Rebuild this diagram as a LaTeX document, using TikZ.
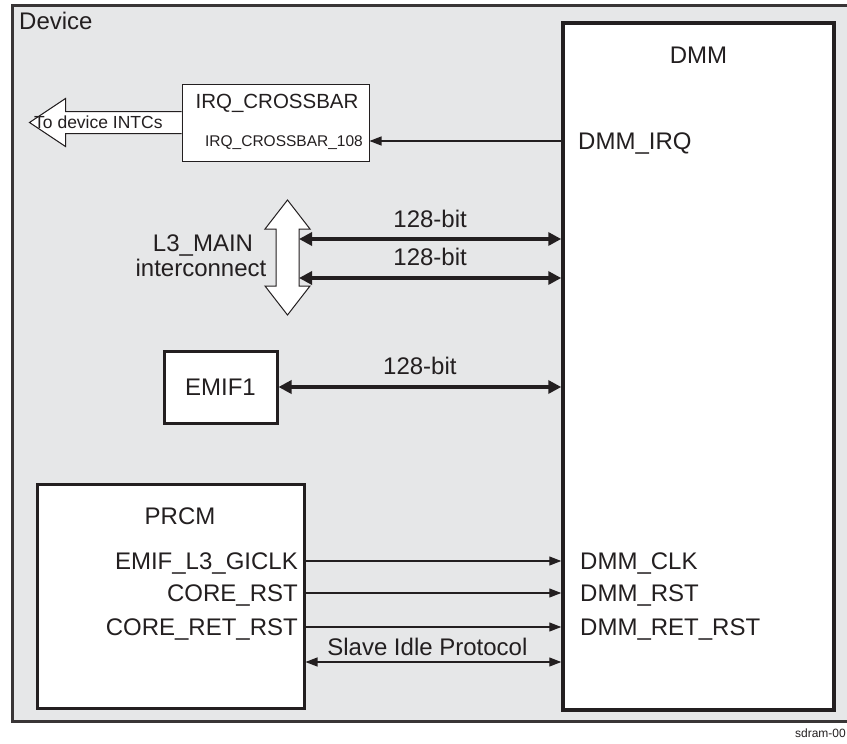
\documentclass[tikz,border=0pt]{standalone}
\usepackage{fontspec}
\setmainfont{Liberation Sans}
\usetikzlibrary{arrows.meta,calc}
\definecolor{devfill}{HTML}{E6E7E8}
\definecolor{ink}{HTML}{231F20}
\begin{document}
\begin{tikzpicture}[x=1pt,y=-1pt,
  box/.style={draw=ink, fill=white, line width=3pt, inner sep=0pt, rectangle},
  lbl/.style={font=\fontsize{24}{26}\selectfont, inner sep=0pt, text height=17.2pt, text depth=0pt, text=ink},
  midlbl/.style={font=\fontsize{20.5}{23}\selectfont, inner sep=0pt, text height=14.7pt, text depth=0pt, text=ink},
  smalllbl/.style={font=\fontsize{15.5}{18}\selectfont, inner sep=0pt, text height=11.1pt, text depth=0pt, text=ink},
  arrowlbl/.style={font=\fontsize{17.5}{20}\selectfont, inner sep=0pt, text height=12.6pt, text depth=0pt, text=ink},
  thinarrow/.style={draw=ink, line width=1.2pt, -{Triangle[length=12pt,width=9pt]}},
  thinboth/.style={draw=ink, line width=1.2pt, {Triangle[length=12pt,width=9pt]}-{Triangle[length=12pt,width=9pt]}},
  thickboth/.style={draw=ink, line width=3.5pt, {Triangle[length=13pt,width=13pt]}-{Triangle[length=13pt,width=13pt]}},
  fatarrow/.style={draw=ink, fill=white, line width=1pt, line join=miter},
]
\useasboundingbox (0,0) rectangle (847,744);

% Device frame
\node[draw=ink!90, fill=devfill, line width=2.5pt, minimum width=851pt, minimum height=716pt, anchor=north west, inner sep=0pt] (device) at (11,4) {};
\node[lbl, anchor=west] (devlbl) at (19,21) {Device};

% DMM
\node[box, line width=3.5pt, minimum width=271pt, minimum height=687pt] (dmm) at (698.5,366.5) {};
\node[lbl] (dmmt) at (698.5,55) {DMM};

% IRQ crossbar and fat arrow
\node[box, line width=1pt, minimum width=187pt, minimum height=77pt] (xbar) at (275.5,122.5) {};
\draw[fatarrow] ($(xbar.west)+(0,-11)$) -- ++(-116,0) -- ++(0,-13) -- ++(-36,24) -- ++(36,24) -- ++(0,-13) -- ($(xbar.west)+(0,11)$);
\node[arrowlbl, anchor=west] (intc) at (34,122) {To device INTCs};
\node[midlbl] (xbart) at (277,101) {IRQ\_CROSSBAR};
\node[smalllbl, anchor=east] (xbar108) at (363,141) {IRQ\_CROSSBAR\_108};
\node[lbl, anchor=west] (dmmirq) at (578,141) {DMM\_IRQ};
\draw[thinarrow] (dmm.west |- dmmirq.west) -- (xbar.east |- dmmirq.west);

% L3 MAIN interconnect double arrow
\coordinate (l3) at (287.5,257.5);
\draw[fatarrow] ($(l3)+(0,-57.5)$) -- ++(22.5,29) -- ++(-11,0) -- ++(0,57) -- ++(11,0) -- ++(-22.5,29) -- ++(-22.5,-29) -- ++(11,0) -- ++(0,-57) -- ++(-11,0) -- cycle;
\node[lbl] (l3a) at (203,243) {L3\_MAIN};
\node[lbl] (l3b) at (201,268) {interconnect};
\coordinate (bus1) at (299,239);
\coordinate (bus2) at (299,278);
\draw[thickboth] (bus1) -- (dmm.west |- bus1) node[lbl, midway, above=10pt] {128-bit};
\draw[thickboth] (bus2) -- (dmm.west |- bus2) node[lbl, midway, above=10.5pt] {128-bit};

% EMIF1
\node[box, minimum width=113pt, minimum height=72pt, lbl, text height=17.2pt] (emif) at (220.5,387) {EMIF1};
\draw[thickboth] (emif.east) -- (dmm.west |- emif.east) node[lbl, midway, above=10.5pt] {128-bit};

% PRCM
\node[box, minimum width=267pt, minimum height=224pt] (prcm) at (170.5,596) {};
\node[lbl] (prcmt) at (180,516) {PRCM};
\node[lbl, anchor=east] (clk) at (298,561) {EMIF\_L3\_GICLK};
\node[lbl, anchor=east] (rst) at (298,593) {CORE\_RST};
\node[lbl, anchor=east] (retrst) at (298,627) {CORE\_RET\_RST};
\node[lbl, anchor=west] (dclk) at (580,561) {DMM\_CLK};
\node[lbl, anchor=west] (drst) at (580,593) {DMM\_RST};
\node[lbl, anchor=west] (dretrst) at (580,627) {DMM\_RET\_RST};
\draw[thinarrow] (prcm.east |- clk.east) -- (dmm.west |- clk.east);
\draw[thinarrow] (prcm.east |- rst.east) -- (dmm.west |- rst.east);
\draw[thinarrow] (prcm.east |- retrst.east) -- (dmm.west |- retrst.east);
\coordinate (sipy) at (0,662);
\draw[thinboth] (prcm.east |- sipy) -- (dmm.west |- sipy) node[lbl, midway, above=5.5pt, xshift=-6pt] {Slave Idle Protocol};

% figure tag
\node[font=\fontsize{12}{14}\selectfont, inner sep=0pt, anchor=base east, text=ink] (tag) at (846,737) {sdram-00};
\end{tikzpicture}
\end{document}
